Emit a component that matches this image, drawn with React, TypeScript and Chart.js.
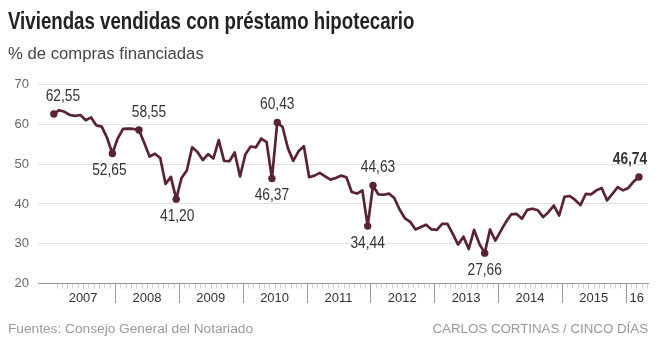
import React, { useEffect, useRef } from "react";
import { Chart, registerables } from "chart.js";

Chart.register(...registerables);

const YEAR_LABELS = ["2007", "2008", "2009", "2010", "2011", "2012", "2013", "2014", "2015", "16"];
const Y_TICKS = [20, 30, 40, 50, 60, 70];
// Monthly share (%) of home purchases financed with a mortgage, Jan 2007 .. Mar 2016
const VALUES = [
  62.55, 63.5, 63.1, 62.3, 62.1, 62.3, 61.0, 61.7, 59.7, 59.4, 56.6, 52.65,
  56.4, 58.8, 58.9, 58.8, 58.55, 55.3, 51.9, 52.6, 51.5, 45.0, 46.8, 41.2,
  46.5, 48.4, 54.2, 53.0, 51.0, 52.5, 51.4, 56.0, 50.8, 50.7, 52.9, 46.9,
  52.4, 54.4, 54.2, 56.4, 55.5, 46.37, 60.43, 59.3, 54.0, 50.8, 53.2, 54.5,
  46.7, 47.1, 47.8, 46.9, 46.1, 46.5, 47.1, 46.7, 43.0, 42.6, 43.4, 34.44,
  44.63, 42.4, 42.3, 42.6, 41.5, 38.6, 36.4, 35.5, 33.6, 34.2, 34.8, 33.6,
  33.5, 35.0, 35.0, 32.5, 29.8, 31.8, 28.7, 33.5, 30.0, 27.66, 33.6, 30.8,
  33.2, 35.5, 37.4, 37.5, 36.3, 38.5, 38.8, 38.4, 36.7, 38.0, 39.6, 37.1,
  41.8, 42.0, 41.0, 39.7, 42.5, 42.4, 43.4, 44.0, 40.9, 42.5, 44.2, 43.4,
  44.0, 45.6, 46.74,
];
const LABELED_INDEX = [0, 11, 16, 23, 41, 42, 59, 60, 81, 110];
const LABEL_SIDE = ["up", "down", "up", "down", "down", "up", "down", "up", "down", "up"];
const LABEL_NUDGE = [9, -3, 10, 1, 0, 0, 0, 5, 0, -9];

const SANS = '"Liberation Sans", Arial, sans-serif';
const LINE_COLOR = "#5a2232";
const X_MIN = -2.48;
const X_MAX = 112.2;

function fmt(v: number) {
  return v.toFixed(2).replace(".", ",");
}

const axisDecor = {
  id: "axisDecor",
  afterDraw(chart: any) {
    const xs = chart.scales.x;
    const ctx = chart.ctx;
    const y0 = Math.round(chart.chartArea.bottom);
    ctx.save();
    ctx.lineWidth = 1;
    for (let m = 1; m <= Math.floor(X_MAX); m++) {
      const px = Math.round(xs.getPixelForValue(m)) + 0.5;
      const isYear = m % 12 === 0;
      ctx.strokeStyle = isYear ? "#9a9a9a" : "#cfcfcf";
      ctx.beginPath();
      ctx.moveTo(px, y0);
      ctx.lineTo(px, y0 + (isYear ? 19 : 4.5));
      ctx.stroke();
    }
    ctx.restore();
  },
};

const valueLabels = {
  id: "valueLabels",
  afterDatasetsDraw(chart: any) {
    const meta = chart.getDatasetMeta(0);
    const ctx = chart.ctx;
    LABELED_INDEX.forEach((idx, k) => {
      const pt = meta.data[idx];
      if (!pt) return;
      const last = k === LABELED_INDEX.length - 1;
      const dy = LABEL_SIDE[k] === "up" ? -17.5 : 17;
      ctx.save();
      ctx.translate(pt.x + LABEL_NUDGE[k], pt.y + dy);
      ctx.scale(0.86, 1);
      ctx.textAlign = "center";
      ctx.textBaseline = "middle";
      ctx.font = `${last ? "bold " : ""}16px ${SANS}`;
      ctx.fillStyle = "#333";
      ctx.fillText(fmt(VALUES[idx]), 0, 0);
      ctx.restore();
    });
  },
};

export default function App() {
  const ref = useRef<HTMLCanvasElement | null>(null);

  useEffect(() => {
    if (!ref.current) return;
    const chart = new Chart(ref.current, {
      type: "line",
      data: {
        datasets: [
          {
            data: VALUES.map((v, i) => ({ x: i + 0.5, y: v })),
            borderColor: LINE_COLOR,
            backgroundColor: LINE_COLOR,
            borderWidth: 2.7,
            borderJoinStyle: "round",
            borderCapStyle: "round",
            tension: 0,
            pointRadius: (c: any) => (LABELED_INDEX.includes(c.dataIndex) ? 3.7 : 0),
            pointBackgroundColor: LINE_COLOR,
            pointBorderWidth: 0,
            pointHoverRadius: 0,
          },
        ],
      },
      options: {
        responsive: false,
        animation: false,
        devicePixelRatio: 1,
        layout: { padding: { left: 0, right: 16, top: 84.3, bottom: 40.3 } },
        plugins: { legend: { display: false }, tooltip: { enabled: false } },
        scales: {
          x: {
            type: "linear",
            min: X_MIN,
            max: X_MAX,
            afterBuildTicks: (s: any) => {
              s.ticks = YEAR_LABELS.map((_, k) => ({
                value: k < YEAR_LABELS.length - 1 ? 12 * k + 6 : (12 * k + X_MAX) / 2,
              }));
            },
            ticks: {
              autoSkip: false,
              maxRotation: 0,
              color: "#333",
              font: { family: SANS, size: 13 },
              padding: 7,
              callback: (_v: any, i: number) => YEAR_LABELS[i],
            },
            grid: { display: false, drawTicks: false },
            border: { display: true, color: "#9a9a9a", width: 1 },
            afterFit: (s: any) => {
              s.height = 30;
            },
          },
          y: {
            min: 20,
            max: 70,
            afterBuildTicks: (s: any) => {
              s.ticks = Y_TICKS.map((v) => ({ value: v }));
            },
            ticks: { color: "#666", font: { family: SANS, size: 13 }, padding: 9 },
            grid: {
              color: (c: any) => (c.tick && c.tick.value === 20 ? "rgba(0,0,0,0)" : "#e2e2e2"),
              drawTicks: false,
              lineWidth: 1,
            },
            border: { display: false },
            afterFit: (s: any) => {
              s.width = 38;
            },
          },
        },
      },
      plugins: [axisDecor, valueLabels],
    } as any);
    return () => chart.destroy();
  }, []);

  return (
    <div style={{ position: "fixed", left: 0, top: 0, width: 664, height: 354, background: "#fff" }}>
      <canvas ref={ref} width={664} height={354} style={{ position: "absolute", left: 0, top: 0, width: 664, height: 354 }} />
      <div
        style={{
          position: "absolute",
          left: 8,
          top: 9,
          font: `bold 24px ${SANS}`,
          lineHeight: "1",
          color: "#222",
          whiteSpace: "nowrap",
          transform: "scaleX(0.778)",
          transformOrigin: "0 0",
        }}
      >
        Viviendas vendidas con préstamo hipotecario
      </div>
      <div style={{ position: "absolute", left: 8, top: 46, font: `16.7px ${SANS}`, lineHeight: "1", color: "#444", whiteSpace: "nowrap" }}>
        % de compras financiadas
      </div>
      <div style={{ position: "absolute", left: 8, top: 322, font: `13.7px ${SANS}`, lineHeight: "1", color: "#999", whiteSpace: "nowrap" }}>
        Fuentes: Consejo General del Notariado
      </div>
      <div style={{ position: "absolute", right: 16, top: 322, font: `13.3px ${SANS}`, lineHeight: "1", color: "#999", whiteSpace: "nowrap" }}>
        CARLOS CORTINAS / CINCO DÍAS
      </div>
    </div>
  );
}
